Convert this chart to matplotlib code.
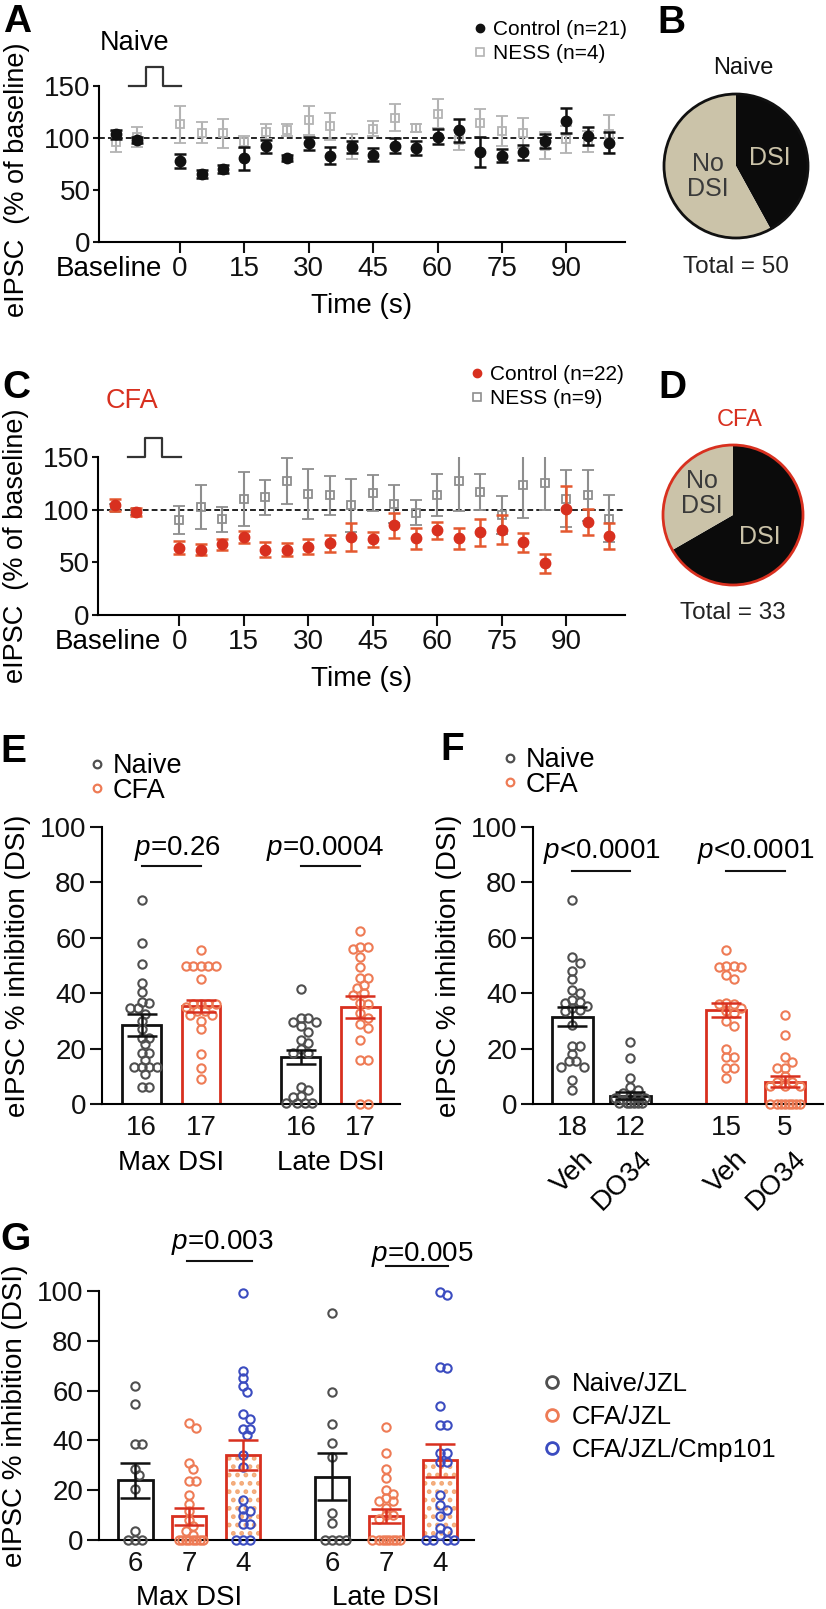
import numpy as np
import matplotlib
matplotlib.use("Agg")
import matplotlib.pyplot as plt
from matplotlib.lines import Line2D
from matplotlib.patches import Circle

plt.rcParams['font.family'] = ['Liberation Sans', 'DejaVu Sans']
plt.rcParams['mathtext.fontset'] = 'custom'
plt.rcParams['mathtext.rm'] = 'Liberation Sans'
plt.rcParams['mathtext.it'] = 'Liberation Sans:italic'
plt.rcParams['hatch.linewidth'] = 2.2

W, H = 826, 1609

# ---------------- data: A / C time course (% of baseline)
t_sec = [-15, -10, 0, 5, 10, 15, 20, 25, 30, 35, 40, 45, 50, 55, 60, 65, 70, 75, 80, 85, 90, 95, 100]
naive_ctrl = [103.4, 98, 78, 65.4, 70, 80.4, 92, 80.7, 94.8, 83, 91.3, 84, 92.6, 90.3, 101.2, 107.6,
              86.5, 83, 86.2, 97, 116.5, 102, 95.4]
naive_ctrl_err = [4.5, 3, 7, 4, 4, 11, 6, 3, 6, 8, 6, 6, 7, 7, 7, 11, 14, 6, 7, 7, 12, 9, 10]
naive_ness = [96.4, 101, 113, 105, 104.4, 96.4, 106, 107.6, 117, 111.4, 92, 109, 119.7, 109.8, 123.5, 98,
              114.6, 106.6, 105, 92.6, 98.6, 96.4, 104]
naive_ness_err = [10, 10, 18, 10, 13.7, 6, 7, 6, 14, 13, 12, 7, 13, 4, 14, 10, 13.5, 14.5, 14.5, 13, 13, 10, 18]
cfa_ctrl = [104.8, 97.9, 64, 62, 67, 74, 62, 62, 65, 68, 74, 72, 85, 73, 80.5, 73, 78.6, 81, 69, 49, 101, 88, 75]
cfa_ctrl_err = [5.7, 4, 6, 5, 5, 6, 7, 6, 7, 8, 13, 7, 12, 10, 8, 10, 13, 13.5, 9, 9, 21, 12.5, 12.5]
cfa_ness = [102, 98, 90, 102.6, 91, 110.5, 112, 127, 115, 113.7, 104, 116, 105.8, 97, 113.7, 127, 116.5,
            94.7, 123.8, 125.7, 110.5, 113.7, 91.6]
cfa_ness_err = [3, 3, 13.5, 21, 12, 25.6, 16.6, 21.6, 24, 18.6, 25, 17, 18, 12, 20, 28, 17, 18, 32, 26, 27, 24, 22]
time_ticks = [0, 15, 30, 45, 60, 75, 90]
baseline_tick = -16.6
pulse_t = [-12, -8, -8, -4, -4, 0.3]
pulse_y = [150, 150, 168, 168, 150, 150]

# ---------------- data: B / D pies (DSI, No DSI)
naive_pie = [21, 29]
cfa_pie = [22, 11]

# ---------------- data: E
e_n = ['16', '17', '16', '17']
e_groups = ['Max DSI', 'Late DSI']
e_bar = [28.5, 35.5, 17, 35]
e_sem = [4, 2.2, 2.4, 4]
e_naive_max = [73.6, 58.3, 50.5, 43.7, 40.5, 37, 36.5, 34.5, 34.5, 32.5, 30, 27, 24, 24, 21.5, 18.5, 18.5,
               16, 13.5, 13.5, 13.5, 13.5, 11, 6, 6]
e_cfa_max = [55.5, 50, 50, 50, 50, 50, 45, 36, 36, 36, 36, 35, 33.5, 33.5, 32, 32, 30, 27, 18, 13, 9]
e_naive_late = [41.5, 31, 31, 29.5, 29.5, 28, 26, 23, 22, 20, 18.5, 18.5, 6, 5, 3, 2.5, 0.5, 0.5, 0.5, 0.5]
e_cfa_late = [62.5, 56.5, 56.5, 56, 53, 49.5, 45.5, 45.5, 43, 42, 40, 39.5, 36, 36.5, 33, 29, 31, 27.5, 23,
              16, 16, 0, 0]

# ---------------- data: F
f_n = ['18', '12', '15', '5']
f_drug = ['Veh', 'DO34', 'Veh', 'DO34']
f_bar = [31.5, 3, 34, 8]
f_sem = [3.5, 1.2, 2.5, 2]
f_naive_veh = [73.5, 53, 51, 48, 45, 41, 40, 37.5, 37, 36.5, 35.5, 34.5, 34, 33.5, 28.5, 21, 21, 18, 15.5,
               15.5, 13.5, 13.5, 8.5, 5]
f_naive_do34 = [22.5, 16.5, 9.5, 6, 5, 4, 3, 2, 2, 1.5, 2, 0.5, 0.5, 0.5, 0.5, 0.5, 0.5]
f_cfa_veh = [55.5, 50, 49.5, 50, 49.5, 46.5, 45, 36.5, 36, 36, 34.5, 33.5, 33, 30, 28, 20, 17, 17, 13, 13, 9.5]
f_cfa_do34 = [32, 25, 17, 15, 13, 13, 10, 8, 8, 6.5, 6.5, 6.5, 0, 0, 0, 0, 0, 0, 0, 0]

# ---------------- data: G
g_n = ['6', '7', '4', '6', '7', '4']
g_groups = ['Max DSI', 'Late DSI']
g_legend = ['Naive/JZL', 'CFA/JZL', 'CFA/JZL/Cmp101']
g_bar = [24, 9.5, 34, 25.5, 9.5, 32]
g_sem = [7, 3.5, 6, 9.5, 2.8, 6.5]
g_naive_max = [62, 54.5, 38.5, 38.5, 28.5, 26, 20.5, 3.5, 0, 0, 0]
g_cfa_max = [47, 45, 31, 28.5, 23.5, 23.5, 18, 14.5, 11.5, 8, 5.5, 3.5, 2, 0, 0, 0, 0, 0, 0, 0, 0]
g_cmp_max = [99, 68, 65, 62, 59.5, 50.5, 48.5, 44.5, 44.5, 42, 34, 29.5, 16, 12.5, 11.5, 9.5, 6.5, 6.5, 0, 0, 0]
g_naive_late = [91, 59.5, 46.5, 39, 33.5, 11, 7, 0, 0, 0, 0]
g_cfa_late = [45.5, 35, 28.5, 25, 20, 18.5, 17, 15.5, 15.5, 13, 10, 10, 8.5, 0, 0, 0, 0, 0, 0, 0, 0]
g_cmp_late = [99.5, 98.5, 69.5, 69, 54, 46, 46, 35, 35, 31.5, 31.5, 18, 14, 12, 9.5, 5, 3.5, 2, 0, 0, 0, 0]

# ---------------- colours
BLACK = '#111111'
RED = '#d8301f'
RED_ERR = '#e4582f'
ORANGE = '#ee7b55'
GRAY_PT = '#4f4f4f'
BLUE = '#3b4cc0'
BEIGE = '#cbc3a9'
DOTS = '#f3a977'
FS = 20

fig = plt.figure(figsize=(W / 100, H / 100), dpi=100)


def px(v):
    # pixels -> points at dpi 100
    return v * 0.72


def add_ax(left, top, right, bottom):
    return fig.add_axes([left / W, 1 - bottom / H, (right - left) / W, (bottom - top) / H])


def style_axes(ax):
    for s in ('top', 'right'):
        ax.spines[s].set_visible(False)
    for s in ('left', 'bottom'):
        ax.spines[s].set_linewidth(1.5)
    ax.tick_params(width=1.5, labelsize=FS, colors='#111111')


def letter(x, y_base, s):
    fig.text(x / W, 1 - y_base / H, s, fontsize=28, fontweight='bold', va='baseline', ha='left')


def swarm(vals, xsc, ysc, d=7.5, half=17.0, step=3.75):
    """beeswarm offsets (in data x units) so open circles do not pile up"""
    vals = np.asarray(vals, float)
    cands = [0.0]
    k = 1
    while k * step <= half + 1e-9:
        cands += [k * step, -k * step]
        k += 1
    placed, offs = [], np.zeros(len(vals))
    for i in np.argsort(-vals, kind='stable'):
        y = vals[i] * ysc
        pick, best_gap, best_c = None, -1, 0.0
        for c in cands:
            gap = min((np.hypot(c - a, y - b) for a, b in placed), default=1e9)
            if gap >= d:
                pick = c
                break
            if gap > best_gap:
                best_gap, best_c = gap, c
        if pick is None:
            pick = best_c
        offs[i] = pick
        placed.append((pick, y))
    return offs / xsc


def time_panel(ax, ctrl, ctrl_err, ness, ness_err, ctrl_col, ctrl_ecol, ness_col, ylab_shift):
    ax.errorbar(t_sec, ness, yerr=ness_err, fmt='s', ms=5.5, mfc='none', mec=ness_col, mew=1.3,
                ecolor=ness_col, elinewidth=1.5, capsize=4.5, capthick=1.5, zorder=2)
    ax.errorbar(t_sec, ctrl, yerr=ctrl_err, fmt='o', ms=7.5, color=ctrl_col, ecolor=ctrl_ecol,
                elinewidth=1.8, capsize=4.5, capthick=1.8, zorder=3)
    ax.axhline(100, color='#222222', lw=1.4, ls=(0, (3, 1.6)), zorder=1)
    ax.plot(pulse_t, pulse_y, color='#333333', lw=1.6, clip_on=False)
    ax.set_xlim(-18.9, 103.7)
    ax.set_ylim(0, 150)
    style_axes(ax)
    ax.set_yticks([0, 50, 100, 150])
    ax.tick_params(axis='y', length=4, pad=2)
    ax.set_xticks(time_ticks)
    ax.set_xticklabels([str(t) for t in time_ticks])
    ax.tick_params(axis='x', which='major', length=8, pad=2)
    ax.set_xticks([baseline_tick], minor=True)
    ax.set_xticklabels(['Baseline'], minor=True)
    ax.tick_params(axis='x', which='minor', length=0, pad=10, labelsize=FS)
    ax.annotate('Time (s)', xy=(0.5, 0), xycoords='axes fraction', xytext=(0, -px(64)),
                textcoords='offset points', ha='center', va='center', fontsize=FS)
    ax.annotate('eIPSC  (% of baseline)', xy=(0, 0.5), xycoords='axes fraction',
                xytext=(-px(82), -px(ylab_shift)), textcoords='offset points',
                ha='center', va='center', rotation=90, fontsize=19.5)
    handles = [Line2D([], [], marker='o', ls='none', color=ctrl_col, ms=6),
               Line2D([], [], marker='s', ls='none', mfc='none', mec=ness_col, mew=1.2, ms=6)]
    return handles


# ---------------- A
axA = add_ax(99, 86, 625, 242)
hA = time_panel(axA, naive_ctrl, naive_ctrl_err, naive_ness, naive_ness_err, BLACK, BLACK, '#b3b3b3', 16)
axA.legend(hA, ['Control (n=21)', 'NESS (n=4)'], loc='upper left', bbox_to_anchor=(474 / W, 1 - 20 / H),
           bbox_transform=fig.transFigure, frameon=False, fontsize=15, handlelength=0.6,
           handletextpad=0.3, labelspacing=0.25, borderpad=0, borderaxespad=0)
fig.text(135 / W, 1 - 50 / H, 'Naive', fontsize=19.5, ha='center', va='baseline')
letter(3, 32, 'A')

# ---------------- C
axC = add_ax(98, 457, 625, 615)
hC = time_panel(axC, cfa_ctrl, cfa_ctrl_err, cfa_ness, cfa_ness_err, RED, RED_ERR, '#8e8e8e', 10)
axC.legend(hC, ['Control (n=22)', 'NESS (n=9)'], loc='upper left', bbox_to_anchor=(471 / W, 1 - 365 / H),
           bbox_transform=fig.transFigure, frameon=False, fontsize=15, handlelength=0.6,
           handletextpad=0.3, labelspacing=0.25, borderpad=0, borderaxespad=0)
fig.text(132 / W, 1 - 408 / H, 'CFA', fontsize=19.5, ha='center', va='baseline', color=RED)
letter(2, 398, 'C')


# ---------------- B / D pies
def pie_panel(cx, cy, r, counts, edge, title, title_col, total, dsi_xy, no_xy):
    ax = add_ax(cx - r, cy - r, cx + r, cy + r)
    ax.pie(counts, colors=['#0b0b0b', BEIGE], startangle=90, counterclock=False, radius=1,
           wedgeprops=dict(linewidth=0))
    ax.add_patch(Circle((0, 0), 1, fill=False, ec=edge, lw=2, clip_on=False))
    ax.set_xlim(-1, 1)
    ax.set_ylim(-1, 1)
    ax.set_aspect('auto')
    ax.axis('off')
    ax.text(dsi_xy[0], dsi_xy[1], 'DSI', color=BEIGE, ha='center', va='center', fontsize=18)
    ax.text(no_xy[0], no_xy[1], 'No\nDSI', color='#3a3a3a', ha='center', va='center', fontsize=18,
            linespacing=1.05)
    ax.text(0.1, 1.36, title, color=title_col, ha='center', va='center', fontsize=17)
    ax.text(0, -1.40, total, color='#222222', ha='center', va='center', fontsize=17.5)


pie_panel(736, 166, 72, naive_pie, '#111111', 'Naive', '#111111', 'Total = %d' % sum(naive_pie),
          (0.47, 0.11), (-0.39, -0.15))
pie_panel(733, 515, 70, cfa_pie, RED, 'CFA', RED, 'Total = %d' % sum(cfa_pie),
          (0.39, -0.31), (-0.44, 0.31))
letter(657, 33, 'B')
letter(658, 398, 'D')


# ---------------- bar / scatter panels
def bar_panel(ax, pos, bars, sems, edges, fills, pts, pt_cols, xsc, ysc, width, n_labels, d, half):
    for p, b, ec, fc in zip(pos, bars, edges, fills):
        if fc == 'dots':
            ax.bar(p, b, width=width, facecolor='white', edgecolor=DOTS, hatch='..', lw=0, zorder=1)
            ax.bar(p, b, width=width, facecolor='none', edgecolor=ec, lw=2, zorder=2)
        else:
            ax.bar(p, b, width=width, facecolor='white', edgecolor=ec, lw=2, zorder=1)
    for p, v, c in zip(pos, pts, pt_cols):
        off = swarm(v, xsc, ysc, d=d, half=half, step=d / 2)
        ax.plot(p + off, v, 'o', ms=6, mfc='none', mec=c, mew=1.5, zorder=3, clip_on=False)
    for p, b, s, ec in zip(pos, bars, sems, edges):
        ax.errorbar(p, b, yerr=s, fmt='none', ecolor=ec, elinewidth=1.8, capsize=11, capthick=1.8, zorder=4)
    ax.set_ylim(0, 100)
    style_axes(ax)
    ax.set_yticks([0, 20, 40, 60, 80, 100])
    ax.tick_params(axis='y', length=8.5, pad=3)
    ax.set_xticks(pos)
    ax.set_xticklabels(n_labels)
    ax.tick_params(axis='x', length=0, pad=8)
    ax.annotate('eIPSC % inhibition (DSI)', xy=(0, 0.5), xycoords='axes fraction', xytext=(-px(84), 0),
                textcoords='offset points', ha='center', va='center', rotation=90, fontsize=FS)


def pval(ax, x1, x2, y_line, y_txt, txt, dx=0.0):
    ax.plot([x1, x2], [y_line, y_line], color='#111111', lw=1.5, clip_on=False)
    ax.text((x1 + x2) / 2 + dx, y_txt, txt, ha='center', va='center', fontsize=FS)


def group_label(ax, x, txt, dy):
    ax.annotate(txt, xy=(x, 0), xycoords=('data', 'axes fraction'), xytext=(0, -px(dy)),
                textcoords='offset points', ha='center', va='center', fontsize=FS)


def small_legend(ax, labels, cols, x0, top, fs, ms, spacing, pad):
    hs = [Line2D([], [], marker='o', ls='none', mfc='none', mec=c, mew=1.6, ms=ms) for c in cols]
    ax.legend(hs, labels, loc='upper left', bbox_to_anchor=(x0 / W, 1 - top / H),
              bbox_transform=fig.transFigure, frameon=False, fontsize=fs, handlelength=0.45,
              handletextpad=pad, labelspacing=spacing, borderpad=0, borderaxespad=0)


# E
axE = add_ax(102, 827, 400, 1104)
posE = np.array([0, 1, 2.68, 3.68])
bar_panel(axE, posE, e_bar, e_sem, [BLACK, RED, BLACK, RED], ['w'] * 4,
          [e_naive_max, e_cfa_max, e_naive_late, e_cfa_late], [GRAY_PT, ORANGE, GRAY_PT, ORANGE],
          59.5, 2.77, 0.655, e_n, 7.5, 17)
axE.set_xlim(-0.664, 4.345)
pval(axE, posE[0], posE[1], 86, 92.4, '$\\it{p}$=0.26', dx=0.1)
pval(axE, posE[2], posE[3], 86, 92.4, '$\\it{p}$=0.0004', dx=-0.1)
group_label(axE, posE[:2].mean(), e_groups[0], 59)
group_label(axE, posE[2:].mean(), e_groups[1], 59)
small_legend(axE, ['Naive', 'CFA'], [GRAY_PT, ORANGE], 91, 753, 19.5, 5.5, -0.05, 0.36)
letter(0, 762, 'E')

# F
axF = add_ax(533, 827, 823, 1104)
posF = np.array([0, 1, 2.65, 3.66])
bar_panel(axF, posF, f_bar, f_sem, [BLACK, BLACK, RED, RED], ['w'] * 4,
          [f_naive_veh, f_naive_do34, f_cfa_veh, f_cfa_do34], [GRAY_PT, GRAY_PT, ORANGE, ORANGE],
          58, 2.77, 0.69, f_n, 7.5, 17)
axF.set_xlim(-0.681, 4.319)
pval(axF, posF[0], posF[1], 84.1, 91, '$\\it{p}$<0.0001')
pval(axF, posF[2], posF[3], 84.1, 91, '$\\it{p}$<0.0001')
for p, lbl in zip(posF, f_drug):
    axF.annotate(lbl, xy=(p, 0), xycoords=('data', 'axes fraction'), xytext=(px(8), -px(42)),
                 textcoords='offset points', rotation=45, ha='right', va='top', rotation_mode='anchor',
                 fontsize=FS)
small_legend(axF, ['Naive', 'CFA'], [GRAY_PT, ORANGE], 504, 747, 19.5, 5.5, -0.05, 0.36)
letter(440, 760, 'F')

# G
axG = add_ax(99, 1291, 474, 1540)
posG = np.array([0, 1, 2, 3.64, 4.64, 5.64])
bar_panel(axG, posG, g_bar, g_sem, [BLACK, RED, RED] * 2, ['w', 'w', 'dots'] * 2,
          [g_naive_max, g_cfa_max, g_cmp_max, g_naive_late, g_cfa_late, g_cmp_late],
          [GRAY_PT, ORANGE, BLUE] * 2, 54, 2.49, 0.63, g_n, 7, 16)
axG.set_xlim(-0.676, 6.27)
pval(axG, posG[1] - 0.05, posG[2] + 0.15, 112, 119.3, '$\\it{p}$=0.003', dx=0.05)
pval(axG, posG[4], posG[5] + 0.15, 110, 114.5, '$\\it{p}$=0.005', dx=0.1)
group_label(axG, posG[:3].mean(), g_groups[0], 58)
group_label(axG, posG[3:].mean(), g_groups[1], 58)
hs = [Line2D([], [], marker='o', ls='none', mfc='none', mec=c, mew=2, ms=8.5) for c in [GRAY_PT, ORANGE, BLUE]]
axG.legend(hs, g_legend, loc='upper left', bbox_to_anchor=(546 / W, 1 - 1372 / H),
           bbox_transform=fig.transFigure, frameon=False, fontsize=18.5, handlelength=0.5,
           handletextpad=0.5, labelspacing=0.35, borderpad=0, borderaxespad=0)
letter(0, 1250, 'G')

fig.savefig('out.png', dpi=100, facecolor='white')
